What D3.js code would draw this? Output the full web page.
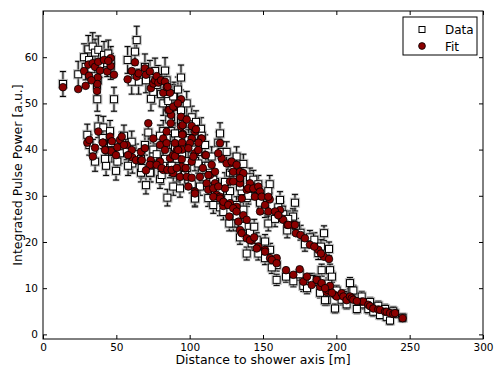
<!DOCTYPE html>
<html><head><meta charset="utf-8">
<script src="https://cdn.jsdelivr.net/npm/d3@7"></script>
<style>body{margin:0;background:#fff} text{font-family:"DejaVu Sans",sans-serif}</style>
</head><body><svg id="chart" width="504" height="378"></svg>
<script>
const distances = [
 13.6,24.0,29.1,28.0,31.4,30.9,33.9,35.5,37.7,38.9,37.3,37.0,36.8,41.6,43.8,46.2,46.2,48.4,44.5,33.0,
 57.7,62.7,63.9,65.2,69.5,70.2,72.9,73.6,75.2,76.4,77.5,78.6,80.5,82.0,83.2,84.3,86.6,85.0,85.4,87.3,89.3,94.1,94.1,94.1,87.1,86.1,88.8,95.2,95.2,101.4,103.6,104.3,107.7,101.4,95.0,84.3,71.8,82.0,75.2,60.5,92.0,98.0,
 30.2,31.6,37.7,35.5,41.1,43.0,46.4,45.7,49.8,50.7,52.5,53.7,57.1,60.5,60.9,63.4,66.8,66.8,69.5,42.3,55.2,40.7,47.0,58.0,34.0,
 67.3,73.4,75.2,79.8,82.0,86.6,88.8,94.6,96.8,101.4,103.6,110.5,88.8,94.6,93.4,98.0,99.1,103.6,107.0,79.8,84.3,90.0,94.8,100.2,94.8,91.2,72.9,77.5,80.9,84.8,87.7,91.2,97.3,101.4,70.2,83.2,90.0,99.1,105.9,102.5,92.2,
 108.2,111.1,113.9,111.6,112.7,118.4,120.7,124.1,127.5,121.8,119.5,127.5,129.7,134.3,134.3,127.5,122.9,132.0,135.5,138.9,120.7,115.0,117.3,112.7,117.3,116.1,119.5,125.2,128.6,132.0,136.6,134.3,129.7,141.1,140.0,143.4,146.8,148.0,144.5,149.1,154.6,151.4,148.0,153.6,161.6,162.7,158.2,163.8,166.5,170.5,172.4,175.6,178.6,182.0,187.7,191.6,195.0,160.4,167.2,171.8,185.0,189.5,153.6,109.0,106.0,
 103.6,116.1,120.7,123.0,126.3,129.7,132.0,136.6,138.9,133.2,134.3,135.5,138.9,142.3,146.8,151.4,154.8,159.3,141.1,145.7,151.4,156.0,159.3,127.0,144.0,
 165.7,170.7,175.0,177.5,183.2,186.6,188.9,190.0,193.4,194.5,195.7,199.1,200.2,203.6,204.8,207.0,209.3,210.5,217.3,218.4,221.8,223.0,225.2,228.6,229.8,233.2,234.3,236.6,238.8,240.0,245.2,180.0,197.0,211.6,192.3,214.0
];
const fitValues = [
 53.5,53.1,53.8,57.0,56.0,58.4,58.7,57.9,59.0,57.1,55.6,54.2,52.7,59.4,56.9,59.8,58.1,56.2,59.2,55.0,
 55.2,58.9,55.8,56.5,57.6,56.2,56.9,53.3,54.3,55.0,55.9,54.5,55.0,52.3,54.7,53.5,52.3,53.6,48.6,47.5,49.1,50.9,47.1,45.0,45.7,48.6,49.3,45.3,43.4,45.1,43.9,44.4,42.4,42.4,43.2,43.9,45.7,42.4,42.4,57.0,50.0,46.5,
 41.5,42.1,43.9,40.4,41.5,39.8,39.7,42.8,38.8,40.5,42.1,42.8,41.0,39.9,38.3,37.7,37.7,39.5,40.3,39.9,41.0,41.5,41.8,38.8,38.5,
 37.7,37.7,36.7,37.4,35.6,38.1,38.8,37.9,35.9,37.4,39.2,38.8,34.9,36.3,34.1,34.1,32.0,30.9,34.1,41.0,41.4,41.4,41.5,41.4,40.0,39.9,36.7,36.7,36.0,35.6,35.6,36.0,36.0,33.9,35.5,39.9,38.6,40.3,39.9,38.5,39.9,
 42.4,38.8,34.5,32.7,31.3,30.2,29.8,31.6,33.1,38.1,39.2,37.0,35.2,35.2,32.7,28.4,27.8,27.6,29.4,31.3,41.4,36.7,35.2,34.5,32.7,31.6,32.0,37.0,37.4,36.7,34.9,33.8,33.1,32.7,31.6,31.6,32.0,30.9,29.8,29.8,29.2,28.0,26.6,26.6,26.9,25.1,26.6,24.8,23.7,23.7,21.9,21.5,20.8,19.4,18.3,16.8,16.3,25.8,23.7,23.7,19.0,17.5,29.8,36.0,41.5,
 30.5,29.8,29.4,28.7,28.0,27.3,26.6,25.8,24.8,24.4,22.6,21.9,20.8,20.3,19.0,18.3,16.5,16.5,20.4,18.6,17.9,16.1,15.4,25.5,21.0,
 13.9,12.9,14.1,11.4,10.7,11.8,10.3,11.1,9.2,9.6,10.5,8.5,8.2,8.9,8.2,7.4,8.2,7.8,7.1,7.1,6.4,6.1,5.6,5.4,5.3,4.9,4.9,4.6,4.4,4.6,3.5,12.5,9.0,7.5,10.0,7.2
];
const dataValues = [
 54.2,56.3,57.9,60.0,59.4,61.7,62.3,61.0,61.6,58.5,55.0,50.9,54.0,60.5,58.7,58.0,59.4,50.9,60.8,57.5,
 59.4,61.2,63.7,54.7,57.9,55.0,56.5,51.0,52.5,57.0,54.0,55.5,52.0,50.0,57.1,55.0,49.0,51.0,50.5,47.0,52.0,55.6,48.5,46.0,44.0,46.5,51.5,43.0,45.5,47.0,41.0,46.0,44.5,40.5,41.5,42.5,43.7,44.0,40.0,54.7,53.0,50.0,
 43.2,41.0,45.0,37.4,44.8,36.5,41.4,44.0,35.4,37.4,39.2,41.5,40.0,41.7,37.0,39.0,35.0,38.0,41.0,38.0,43.0,42.5,39.5,36.5,40.0,
 36.0,35.0,38.5,33.6,37.0,36.0,41.0,40.0,34.5,39.0,37.5,41.0,32.0,38.0,31.6,36.0,33.5,29.6,32.0,43.0,39.5,43.5,39.0,42.5,41.0,38.0,35.0,39.0,34.5,29.6,36.5,35.0,37.5,32.5,32.3,38.0,40.5,42.0,37.0,40.0,42.0,
 43.0,36.5,36.0,34.0,29.5,31.5,27.5,33.0,31.0,39.5,41.5,35.0,37.0,33.0,34.5,26.5,29.0,25.5,31.0,29.5,43.5,38.5,33.0,36.5,31.0,33.5,30.5,39.5,36.0,38.5,36.9,32.0,35.0,34.0,30.0,33.5,32.5,29.0,31.5,28.0,32.5,27.0,28.5,24.0,29.1,27.0,25.0,26.0,22.5,25.5,23.5,22.0,19.5,21.0,17.6,21.9,18.5,27.5,25.0,28.5,20.5,19.0,31.0,34.0,39.5,
 29.4,28.0,31.0,26.5,29.5,24.0,28.0,27.0,23.3,24.0,21.0,23.5,17.5,19.7,17.5,20.1,18.3,15.0,22.0,20.5,16.5,14.5,11.8,24.0,23.3,
 12.5,11.5,13.0,10.5,12.0,11.8,9.0,13.9,7.4,11.0,13.9,5.6,9.5,7.5,8.5,6.5,11.1,9.5,8.2,6.5,5.5,7.0,4.9,6.2,4.2,5.5,3.8,3.0,5.0,4.5,3.6,10.0,12.5,9.5,7.4,5.5
];
const dataErrors = [
 2.7,2.8,2.8,2.9,2.9,3.0,3.0,2.9,3.0,2.9,2.7,2.6,2.7,2.9,2.9,2.8,2.9,2.6,2.9,2.8,
 2.9,2.9,3.0,2.7,2.8,2.7,2.8,2.6,2.6,2.8,2.7,2.7,2.6,2.6,2.8,2.7,2.5,2.6,2.6,2.4,2.6,2.7,2.5,2.4,2.3,2.4,2.6,2.3,2.4,2.4,2.2,2.4,2.4,2.2,2.3,2.3,2.3,2.3,2.2,2.7,2.7,2.6,
 2.3,2.2,2.4,2.1,2.4,2.1,2.2,2.3,2.0,2.1,2.2,2.3,2.2,2.3,2.1,2.2,2.0,2.1,2.2,2.1,2.3,2.3,2.2,2.1,2.2,
 2.1,2.0,2.1,2.0,2.1,2.1,2.2,2.2,2.0,2.2,2.1,2.2,1.9,2.1,1.9,2.1,2.0,1.8,1.9,2.3,2.2,2.3,2.2,2.3,2.2,2.1,2.0,2.2,2.0,1.8,2.1,2.0,2.1,1.9,1.9,2.1,2.2,2.3,2.1,2.2,2.3,
 2.3,2.1,2.1,2.0,1.8,1.9,1.8,2.0,1.9,2.2,2.3,2.0,2.1,2.0,2.0,1.7,1.8,1.7,1.9,1.8,2.3,2.1,2.0,2.1,1.9,2.0,1.9,2.2,2.1,2.1,2.1,1.9,2.0,2.0,1.8,2.0,1.9,1.8,1.9,1.8,1.9,1.7,1.8,1.6,1.8,1.7,1.7,1.7,1.6,1.7,1.6,1.6,1.5,1.5,1.4,1.6,1.5,1.8,1.7,1.8,1.5,1.5,1.9,2.0,2.2,
 1.8,1.8,1.9,1.7,1.8,1.6,1.8,1.7,1.6,1.6,1.5,1.6,1.4,1.5,1.4,1.5,1.4,1.3,1.6,1.5,1.4,1.3,1.2,1.6,1.6,
 1.2,1.2,1.3,1.2,1.2,1.2,1.1,1.3,1.1,1.2,1.3,1.0,1.1,1.1,1.1,1.0,1.2,1.1,1.1,1.0,1.0,1.0,1.0,1.0,0.9,1.0,0.9,0.9,1.0,0.9,0.9,1.2,1.2,1.1,1.1,1.0
];
const xTicks = [0, 50, 100, 150, 200, 250, 300];
const yTicks = [0, 10, 20, 30, 40, 50, 60];
const legendLabels = ["Data", "Fit"];
const xLabel = "Distance to shower axis [m]";
const yLabel = "Integrated Pulse Power [a.u.]";

const n = Math.min(distances.length, fitValues.length, dataValues.length, dataErrors.length);
const points = d3.range(n).map(i => ({x: distances[i], fit: fitValues[i], data: dataValues[i], err: dataErrors[i]}));

const svg = d3.select("#chart");
svg.append("rect").attr("width", 504).attr("height", 378).attr("fill", "#fff");
const L = 43, R = 483, T = 11, B = 339;
const x = d3.scaleLinear().domain([0, 300]).range([L, R]);
const y = d3.scaleLinear().domain([-1, 70]).range([B, T]);

svg.append("clipPath").attr("id", "clip").append("rect")
  .attr("x", L).attr("y", T).attr("width", R - L).attr("height", B - T);
const plot = svg.append("g").attr("clip-path", "url(#clip)");

// error bar halos
const eb = plot.append("g");
points.forEach(d => {
  const cx = x(d.x), y1 = y(d.data - d.err), y2 = y(d.data + d.err);
  const g = eb.append("g");
  g.append("line").attr("x1", cx).attr("x2", cx).attr("y1", y1).attr("y2", y2)
    .attr("stroke", "#999").attr("stroke-width", 3).attr("opacity", 0.6);
  [y1, y2].forEach(yy => g.append("line").attr("x1", cx - 3.5).attr("x2", cx + 3.5).attr("y1", yy).attr("y2", yy)
    .attr("stroke", "#999").attr("stroke-width", 2.5).attr("opacity", 0.6));
  g.append("line").attr("x1", cx).attr("x2", cx).attr("y1", y1).attr("y2", y2)
    .attr("stroke", "#000").attr("stroke-width", 1);
  [y1, y2].forEach(yy => g.append("line").attr("x1", cx - 3).attr("x2", cx + 3).attr("y1", yy).attr("y2", yy)
    .attr("stroke", "#000").attr("stroke-width", 1));
});
plot.append("g").selectAll("rect.halo").data(points).join("rect")
  .attr("x", d => x(d.x) - 4.5).attr("y", d => y(d.data) - 4.5).attr("width", 9).attr("height", 9)
  .attr("fill", "none").attr("stroke", "#aaa").attr("stroke-width", 1.2).attr("opacity", 0.7);
plot.append("g").selectAll("rect").data(points).join("rect")
  .attr("x", d => x(d.x) - 3.5).attr("y", d => y(d.data) - 3.5).attr("width", 7).attr("height", 7)
  .attr("fill", "#fff").attr("stroke", "#000").attr("stroke-width", 1);
plot.append("g").selectAll("circle").data(points).join("circle")
  .attr("cx", d => x(d.x)).attr("cy", d => y(d.fit)).attr("r", 3.8)
  .attr("fill", "#8b0000").attr("stroke", "#000").attr("stroke-width", 0.8);

// axes
const fs = "10.5px";
const ax = svg.append("g").attr("transform", `translate(0,${B})`)
  .call(d3.axisBottom(x).tickValues(xTicks).tickSize(-4).tickPadding(5).tickFormat(d3.format("d")));
const ay = svg.append("g").attr("transform", `translate(${L},0)`)
  .call(d3.axisLeft(y).tickValues(yTicks).tickSize(-4).tickPadding(5).tickFormat(d3.format("d")));
const axT = svg.append("g").attr("transform", `translate(0,${T})`)
  .call(d3.axisTop(x).tickValues(xTicks).tickSize(-4).tickFormat(""));
const ayR = svg.append("g").attr("transform", `translate(${R},0)`)
  .call(d3.axisRight(y).tickValues(yTicks).tickSize(-4).tickFormat(""));
[ax, ay, axT, ayR].forEach(a => {
  a.select(".domain").remove();
  a.selectAll("text").attr("font-size", fs).attr("font-family", "DejaVu Sans").attr("fill", "#000");
  a.selectAll("line").attr("stroke", "#000");
});
svg.append("rect").attr("x", L).attr("y", T).attr("width", R - L).attr("height", B - T)
  .attr("fill", "none").attr("stroke", "#000").attr("stroke-width", 1);

svg.append("text").attr("x", (L + R) / 2).attr("y", 364).attr("text-anchor", "middle")
  .attr("font-size", "12.5px").text(xLabel);
svg.append("text").attr("transform", `translate(22,${(T + B) / 2}) rotate(-90)`).attr("text-anchor", "middle")
  .attr("font-size", "12.5px").text(yLabel);

// legend
const lg = svg.append("g");
lg.append("rect").attr("x", 403).attr("y", 17).attr("width", 74).attr("height", 38)
  .attr("fill", "#fff").attr("stroke", "#000").attr("stroke-width", 1);
lg.append("rect").attr("x", 419).attr("y", 26.5).attr("width", 6).attr("height", 6)
  .attr("fill", "#fff").attr("stroke", "#000");
lg.append("circle").attr("cx", 422).attr("cy", 46).attr("r", 3.4)
  .attr("fill", "#8b0000").attr("stroke", "#000").attr("stroke-width", 0.8);
legendLabels.forEach((t, i) => lg.append("text").attr("x", 445).attr("y", 33.5 + i * 17)
  .attr("font-size", "12px").text(t));
</script></body></html>
